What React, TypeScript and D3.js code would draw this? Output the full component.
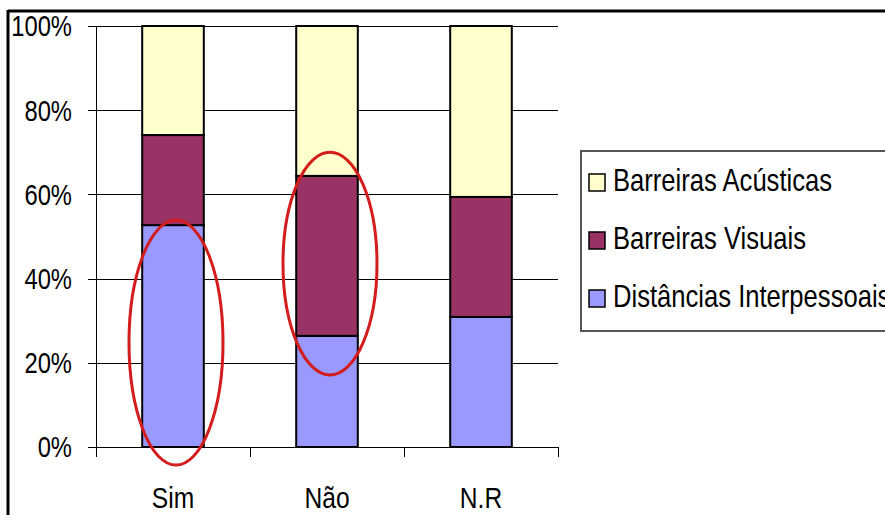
import React from 'react';
import * as d3 from 'd3';

const categories = ['Sim', 'Não', 'N.R'];
const seriesNames = ['Distâncias Interpessoais', 'Barreiras Visuais', 'Barreiras Acústicas'];
const distancias = [0.527, 0.264, 0.309];
const visuais = [0.214, 0.380, 0.285];
const acusticas = [0.259, 0.356, 0.406];
const colors = ['#9999ff', '#993366', '#ffffcc'];
const yTicks = [0, 0.2, 0.4, 0.6, 0.8, 1];
// highlighted ranges (value units) drawn as red ellipses
const highlights = [
  { cat: 'Sim', top: 0.539, bottom: -0.043, dx: 3 },
  { cat: 'Não', top: 0.70, bottom: 0.171, dx: 3 },
];

const W = 885;
const H = 515;
const font = '"Liberation Sans", Arial, sans-serif';

// text squeezed horizontally around its anchor point (the original uses a narrow face)
function NText({ x, y, size, anchor = 'start', dy = '0', sx = 0.82, children }: any) {
  return (
    <text
      transform={`translate(${x},${y}) scale(${sx},1)`}
      dy={dy}
      textAnchor={anchor}
      fontSize={size}
      fill="#000"
    >
      {children}
    </text>
  );
}

export default function App() {
  const x = d3.scaleBand<string>().domain(categories).range([96, 558]).paddingInner(0.6).paddingOuter(0.3);
  const y = d3.scaleLinear().domain([0, 1]).range([447, 26]);

  const rows = categories.map((c, i) => ({ cat: c, d: distancias[i], v: visuais[i], a: acusticas[i] }));
  const stack = d3.stack<any>().keys(['d', 'v', 'a']);
  const layers = stack(rows);

  const step = x.step();
  const bounds = categories.map((_, i) => 96 + i * step).concat([558]);

  const legendOrder = [2, 1, 0];

  return (
    <svg width={W} height={H} style={{ position: 'absolute', left: 0, top: 0, background: '#fff' }} fontFamily={font}>
      {/* outer frame */}
      <line x1={8} x2={W} y1={11} y2={11} stroke="#000" strokeWidth={3} />
      <line x1={8} x2={8} y1={10} y2={H} stroke="#000" strokeWidth={3} />

      {/* gridlines + y ticks */}
      {yTicks.map(t => (
        <g key={t}>
          <line x1={88} x2={558} y1={Math.round(y(t)) + 0.5} y2={Math.round(y(t)) + 0.5} stroke="#000" strokeWidth={1} />
          <NText x={72} y={y(t)} dy="0.36em" anchor="end" size={29}>
            {d3.format('.0%')(t)}
          </NText>
        </g>
      ))}
      <line x1={96.5} x2={96.5} y1={y(1)} y2={y(0) + 10} stroke="#000" strokeWidth={1} />
      {bounds.map((b, i) => (
        <line key={i} x1={Math.round(b) + 0.5} x2={Math.round(b) + 0.5} y1={y(0)} y2={y(0) + 10} stroke="#000" strokeWidth={1} />
      ))}

      {/* bars */}
      {layers.map((layer, li) => (
        <g key={li}>
          {layer.map((seg, si) => (
            <rect
              key={si}
              x={x(categories[si])!}
              width={x.bandwidth()}
              y={y(seg[1])}
              height={y(seg[0]) - y(seg[1])}
              fill={colors[li]}
              stroke="#000"
              strokeWidth={2}
            />
          ))}
        </g>
      ))}

      {/* x labels */}
      {categories.map(c => (
        <NText key={c} x={x(c)! + x.bandwidth() / 2} y={508} anchor="middle" size={30}>
          {c}
        </NText>
      ))}

      {/* red highlight ellipses */}
      {highlights.map(h => (
        <ellipse
          key={h.cat}
          cx={x(h.cat)! + x.bandwidth() / 2 + h.dx}
          cy={(y(h.top) + y(h.bottom)) / 2}
          rx={47}
          ry={(y(h.bottom) - y(h.top)) / 2}
          fill="none"
          stroke="#d41c1c"
          strokeWidth={3}
        />
      ))}

      {/* legend */}
      <rect x={581} y={151} width={W} height={180} fill="#fff" stroke="#555" strokeWidth={2} />
      {legendOrder.map((si, i) => (
        <g key={si}>
          <rect x={589} y={174 + i * 58} width={16} height={17} fill={colors[si]} stroke="#000" strokeWidth={1.5} />
          <NText x={613} y={191 + i * 58} size={32} sx={0.8}>
            {seriesNames[si]}
          </NText>
        </g>
      ))}
    </svg>
  );
}
